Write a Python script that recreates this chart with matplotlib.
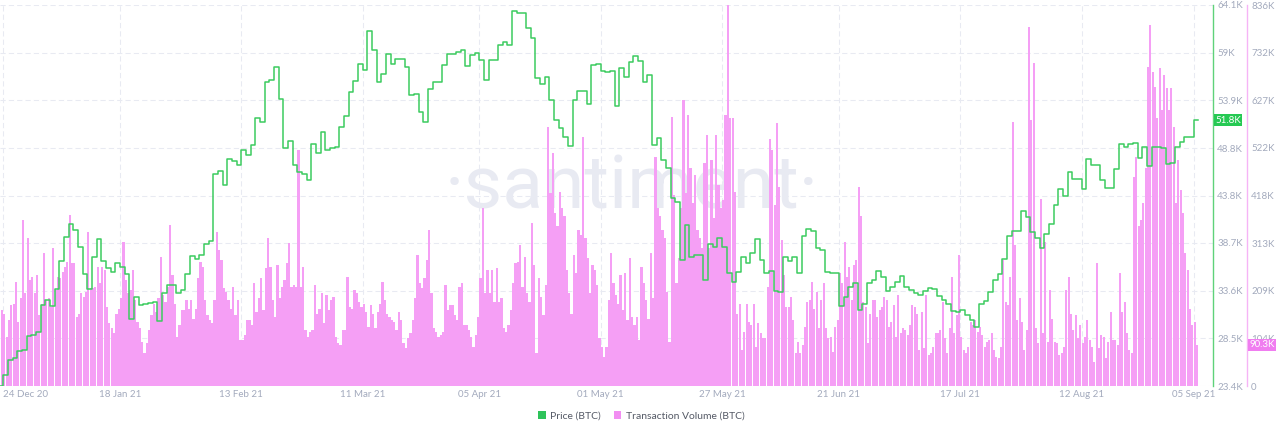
import numpy as np
import pandas as pd
import matplotlib
matplotlib.use('Agg')
import matplotlib.pyplot as plt
import matplotlib.dates as mdates
import matplotlib.transforms as mtransforms
from matplotlib.patches import Patch

plt.rcParams['font.family'] = ['Lato', 'DejaVu Sans']

# ---------------- data ----------------
price_start = '2020-12-23'          # daily steps
price_btc_k = [
    23.4,
    24.6, 26.2, 26.4, 27.1, 27.2, 28.7, 28.9, 29.2, 32.1, 32.6,
    31.9, 33.8, 36.7, 39.3, 40.7, 40.1, 38.3, 35.4, 33.8, 37.2,
    39.1, 36.7, 36.0, 35.6, 36.5, 36.1, 35.4, 30.6, 32.9, 32.1,
    32.2, 32.3, 32.4, 30.3, 33.3, 34.2, 34.2, 33.3, 33.7, 35.4,
    37.3, 37.0, 37.4, 38.6, 38.9, 46.1, 46.4, 44.9, 47.7, 47.4,
    47.0, 48.6, 48.1, 49.1, 52.0, 51.6, 55.9, 56.1, 57.5, 54.1,
    48.8, 49.6, 47.0, 46.3, 46.1, 45.4, 49.3, 48.3, 50.5, 48.6,
    48.8, 48.9, 51.1, 52.2, 54.8, 56.0, 57.8, 57.2, 61.3, 59.3,
    55.9, 56.7, 58.9, 57.8, 58.3, 58.3, 57.5, 54.5, 54.6, 52.7,
    51.6, 55.1, 55.9, 55.9, 57.7, 58.9, 58.9, 59.1, 59.3, 57.6,
    58.8, 59.0, 58.2, 56.1, 58.2, 58.2, 59.8, 60.2, 59.8, 63.5,
    63.2, 63.2, 61.6, 60.6, 56.3, 55.7, 56.4, 53.9, 51.8, 51.0,
    50.0, 49.0, 53.9, 54.9, 54.9, 53.5, 57.7, 57.8, 57.0, 56.9,
    57.0, 53.3, 57.4, 56.4, 58.0, 58.7, 58.1, 55.9, 56.6, 49.1,
    49.9, 47.5, 46.7, 43.5, 43.1, 36.9, 40.6, 37.2, 37.4, 37.4,
    34.7, 38.6, 38.3, 39.2, 38.3, 35.5, 34.5, 35.6, 37.2, 36.5,
    37.6, 39.1, 36.9, 35.5, 35.7, 33.5, 33.4, 37.2, 36.7, 37.2,
    35.5, 39.4, 40.2, 40.0, 38.1, 37.9, 35.6, 35.5, 35.5, 31.9,
    32.9, 34.0, 34.4, 31.5, 32.2, 34.4, 34.7, 35.7, 35.0, 33.5,
    34.0, 34.5, 35.2, 34.0, 33.7, 33.3, 33.1, 33.5, 33.9, 33.8,
    33.0, 32.6, 32.2, 31.4, 31.3, 31.5, 31.0, 30.5, 29.7, 32.2,
    32.5, 33.4, 34.7, 35.4, 37.0, 39.4, 40.0, 40.0, 42.1, 41.5,
    39.9, 39.2, 38.1, 39.6, 40.7, 42.7, 44.4, 43.7, 46.3, 45.5,
    45.5, 44.4, 47.6, 47.0, 47.0, 45.4, 44.6, 44.6, 46.6, 49.3,
    48.9, 49.3, 49.4, 47.8, 48.9, 46.9, 48.9, 48.9, 48.8, 47.1,
    47.2, 48.9, 49.5, 50.0, 50.0, 51.8,
]

volume_start = '2020-12-23 12:00'   # 12-hour bars
volume_btc_k = [
    167, 159, 107, 145, 178, 181, 229, 141, 192, 364,
    203, 324, 233, 240, 203, 244, 156, 181, 291, 189,
    192, 174, 302, 211, 240, 236, 251, 262, 273, 375,
    269, 269, 152, 159, 203, 196, 207, 339, 214, 214,
    218, 262, 225, 262, 255, 174, 138, 127, 116, 159,
    170, 192, 317, 233, 203, 211, 255, 189, 141, 127,
    97, 73, 95, 123, 156, 181, 163, 192, 284, 200,
    185, 218, 353, 244, 181, 108, 134, 167, 167, 189,
    170, 189, 148, 170, 236,
    273, 262, 189, 156, 145, 138, 189, 339, 298, 276,
    214, 207, 189, 170, 218, 156, 189, 101, 101, 112,
    145, 145, 134, 225, 163, 192, 236, 167, 258, 324,
    262, 189, 152, 265, 192, 218, 233, 269, 313, 218,
    222, 218, 518, 218, 262, 123, 108, 119, 123, 222,
    159, 170, 203, 138, 200, 167, 189, 196, 108, 94,
    90, 123, 123, 240, 174, 170, 211, 203, 185, 174,
    181, 163, 130, 178, 159, 127, 163, 181, 229, 189,
    159, 152, 145, 141, 123, 163,
    145, 94, 83, 105, 116, 145, 192, 287, 225, 214,
    236, 276, 342, 203, 127, 119, 108, 112, 119, 222,
    167, 178, 178, 156, 145, 218, 225, 134, 134, 123,
    108, 86, 112, 152, 236, 390, 203, 255, 203, 255,
    185, 258, 185, 192, 127, 119, 134, 167, 225, 269,
    273, 309, 218, 284, 203, 185, 357, 265, 72, 236,
    196, 156, 222, 569, 423, 511, 379, 350, 426, 390,
    372, 255, 203, 159, 287, 247, 342, 331, 547, 324,
    280, 203, 265, 255, 222, 105,
    86, 64, 86, 189, 291, 225, 200, 181, 244, 167,
    247, 145, 280, 152, 134, 152, 101, 262, 225, 189,
    148, 291, 192, 503, 390, 372, 342, 324, 207, 97,
    591, 419, 225, 280, 390, 628, 423, 595, 478, 401,
    463, 342, 324, 302, 489, 551, 302, 496, 368, 551,
    441, 390, 408, 595, 836, 587, 587, 426, 159, 181,
    79, 119, 181, 141, 134, 181, 86, 138, 116, 105,
    105, 218, 543, 518, 397, 576, 437, 320, 244, 174,
    174, 196, 145, 72, 97, 72,
    90, 130, 185, 189, 229, 170, 207, 127, 189, 225,
    127, 105, 108, 75, 130, 145, 247, 225, 317, 240,
    262, 189, 265, 276, 437, 372, 185, 174, 94, 159,
    189, 189, 152, 167, 174, 196, 189, 130, 141, 178,
    108, 200, 116, 127, 123, 112, 134, 178, 174, 159,
    79, 163, 83, 200, 68, 72, 86, 116, 116, 123,
    185, 105, 72, 127, 240, 116, 156, 287, 108, 79,
    72, 86, 141, 134, 145, 119, 130, 112, 86, 97,
    101, 116, 79, 64, 61, 86,
    276, 185, 178, 240, 580, 309, 145, 192, 141, 79,
    123, 788, 584, 708, 127, 94, 410, 116, 317, 97,
    211, 148, 97, 94, 68, 73, 86, 211, 240, 159,
    123, 156, 105, 134, 94, 108, 145, 101, 86, 53,
    269, 83, 112, 108, 61, 97, 163, 101, 101, 90,
    247, 163, 185, 116, 79, 72, 459, 503, 350, 364,
    401, 478, 701, 792, 690, 657, 587, 697, 606, 682,
    653, 606, 653, 569, 401, 496, 430, 379, 291, 255,
    170, 134, 141, 90.3,
]

x_tick_dates = ['2020-12-24', '2021-01-18', '2021-02-13', '2021-03-11', '2021-04-05',
                '2021-05-01', '2021-05-27', '2021-06-21', '2021-07-17', '2021-08-12',
                '2021-09-05']
x_tick_labels = ['24 Dec 20', '18 Jan 21', '13 Feb 21', '11 Mar 21', '05 Apr 21',
                 '01 May 21', '27 May 21', '21 Jun 21', '17 Jul 21', '12 Aug 21',
                 '05 Sep 21']
price_ticks = [23.4, 28.5, 33.6, 38.7, 43.8, 48.8, 53.9, 59.0, 64.1]
price_tick_labels = ['23.4K', '28.5K', '33.6K', '38.7K', '43.8K', '48.8K', '53.9K', '59K', '64.1K']
volume_ticks = [0, 104.5, 209, 313.5, 418, 522.5, 627, 731.5, 836]
volume_tick_labels = ['0', '104K', '209K', '313K', '418K', '522K', '627K', '732K', '836K']
legend_labels = ['Price (BTC)', 'Transaction Volume (BTC)']

# ---------------- styling ----------------
GREEN = '#3ccb5f'
GREEN_BADGE = '#26c953'
PINK = '#f59ff5'
PINK_BADGE = '#f07df0'
TICK_C = '#a3aabd'
GRID_C = '#e8eaf2'

W, H = 1280, 433
PX = 72 / 100  # points per pixel
fig = plt.figure(figsize=(W / 100, H / 100), dpi=100)
ax = fig.add_axes([0, (H - 386) / H, 1213 / W, 381 / H])   # volume (host)
ax2 = ax.twinx()                                           # price

price_x = pd.date_range(price_start, periods=len(price_btc_k) + 1, freq='D')
price_y = np.append(price_btc_k, price_btc_k[-1])
vol_x = pd.date_range(volume_start, periods=len(volume_btc_k), freq='12h')

ax.bar(vol_x, volume_btc_k, width=0.5 * 0.93, align='edge', color=PINK,
       linewidth=0, zorder=2)
ax2.step(price_x, price_y, where='post', color=GREEN, linewidth=1.1, zorder=3)

d0 = mdates.date2num(pd.Timestamp('2020-12-24'))
ax.set_xlim(d0 - 0.707, d0 + 259.15)
ax.set_ylim(volume_ticks[0], volume_ticks[-1])
ax2.set_ylim(price_ticks[0], price_ticks[-1])

# grid
ax.set_axisbelow(True)
ax.grid(True, linestyle=(0, (5, 3)), color=GRID_C, linewidth=0.75)

# watermark
ax.text(0.521, 0.52, '·santiment·', transform=ax.transAxes, ha='center', va='center',
        fontsize=54, color='#e8eaf2', family=['Roboto', 'DejaVu Sans'],
        fontweight='normal', zorder=0.6)

# x axis
ax.set_xticks(mdates.date2num(pd.to_datetime(x_tick_dates)))
ax.set_xticklabels(x_tick_labels)
ax.tick_params(axis='x', length=0, pad=3, labelsize=7, colors=TICK_C)
ax.get_xticklabels()[0].set_horizontalalignment('left')

# volume axis (outer right)
ax.yaxis.tick_right()
ax.spines['right'].set_position(('outward', 34 * PX))
ax.spines['right'].set_color('#f6b4f6')
ax.spines['right'].set_linewidth(1.0)
for s in ['left', 'top', 'bottom']:
    ax.spines[s].set_visible(False)
ax.set_yticks(volume_ticks)
ax.set_yticklabels(volume_tick_labels)
ax.tick_params(axis='y', length=0, pad=3, labelsize=7, colors=TICK_C)

# price axis (inner right)
for s in ['left', 'top', 'bottom']:
    ax2.spines[s].set_visible(False)
ax2.spines['right'].set_color('#5fd27a')
ax2.spines['right'].set_linewidth(1.0)
ax2.set_yticks(price_ticks)
ax2.set_yticklabels(price_tick_labels)
ax2.tick_params(axis='y', length=0, pad=3, labelsize=7, colors=TICK_C)

# last-value badges
tr2 = mtransforms.blended_transform_factory(ax2.transAxes, ax2.transData)
ax2.text(1.0 + 2 / 1213, price_btc_k[-1], f'{price_btc_k[-1]:.1f}K', transform=tr2,
         ha='left', va='center', fontsize=7, color='white', zorder=10, clip_on=False,
         bbox=dict(boxstyle='square,pad=0.15', fc=GREEN_BADGE, ec='none'))
tr1 = mtransforms.blended_transform_factory(ax.transAxes, ax.transData)
ax.text(1.0 + 36 / 1213, volume_btc_k[-1], f'{volume_btc_k[-1]:.1f}K', transform=tr1,
        ha='left', va='center', fontsize=7, color='white', zorder=10, clip_on=False,
        bbox=dict(boxstyle='square,pad=0.15', fc=PINK_BADGE, ec='none'))

# legend
handles = [Patch(facecolor='#2ec35a', edgecolor='none'),
           Patch(facecolor='#f28ef2', edgecolor='none')]
fig.legend(handles, legend_labels, loc='center', bbox_to_anchor=(0.501, 0.039), ncol=2,
           frameon=False, fontsize=7.5, handlelength=0.75, handleheight=0.75,
           handletextpad=0.4, columnspacing=1.2, labelcolor='#555a66')

fig.savefig('out.png', dpi=100)
